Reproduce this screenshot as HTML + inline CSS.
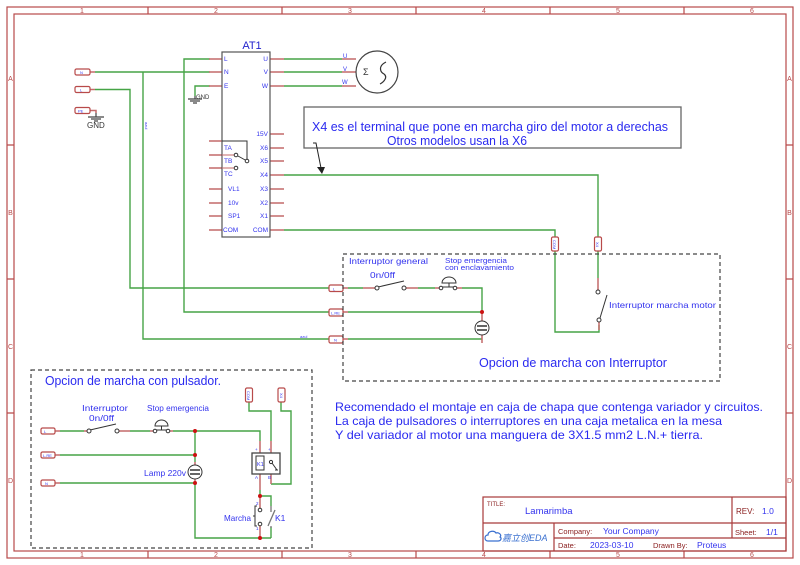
<!DOCTYPE html>
<html><head><meta charset="utf-8"><style>
html,body{margin:0;padding:0;background:#fff;}
svg{display:block;}
text{font-family:"Liberation Sans","DejaVu Sans","Noto Sans CJK SC",sans-serif;}
</style></head><body>
<svg width="800" height="565" viewBox="0 0 800 565" xmlns="http://www.w3.org/2000/svg">
<rect width="800" height="565" fill="#fff"/>
<!-- frame -->
<g stroke="#b84a4a" fill="none" stroke-width="1.2">
<rect x="7" y="7" width="786" height="551"/>
<rect x="14" y="14" width="772" height="537"/>
<path d="M148 7V14M282 7V14M416 7V14M550 7V14M684 7V14M148 551V558M282 551V558M416 551V558M550 551V558M684 551V558M7 145H14M7 279H14M7 413H14M786 145H793M786 279H793M786 413H793"/>
</g>
<g fill="#b84a4a" font-size="7" text-anchor="middle">
<text x="82" y="13">1</text><text x="216" y="13">2</text><text x="350" y="13">3</text><text x="484" y="13">4</text><text x="618" y="13">5</text><text x="752" y="13">6</text>
<text x="82" y="557">1</text><text x="216" y="557">2</text><text x="350" y="557">3</text><text x="484" y="557">4</text><text x="618" y="557">5</text><text x="752" y="557">6</text>
<text x="10.5" y="81">A</text><text x="10.5" y="215">B</text><text x="10.5" y="349">C</text><text x="10.5" y="483">D</text>
<text x="789.5" y="81">A</text><text x="789.5" y="215">B</text><text x="789.5" y="349">C</text><text x="789.5" y="483">D</text>
</g>

<!-- green wires -->
<g stroke="#46a446" fill="none" stroke-width="1.4">
<path d="M95 72H210"/>
<path d="M95 89.5H130V288H329"/>
<path d="M143 72V339H329"/>
<path d="M210 59H184V312H329"/>
<path d="M210 86H195V96"/>
<path d="M284 59H342M284 72H342M284 86H342"/>
<path d="M284 175H598V237"/>
<path d="M598 251V278"/>
<path d="M284 230H555V237"/>
<path d="M555 251V332H599V325"/>
<!-- right dashed box internals -->
<path d="M348 288H363M418 288H435M462 288H482V312M348 312H482M348 339H482"/>
<!-- bottom left -->
<path d="M60 431H84M130 431H150M173 431H260V441M60 455H195M60 483H195V538H271M195 431V462"/>
<path d="M249 402V411H271V441M281 402V411H291V484H271M260 490V496H271V506M271 527V538"/>
</g>
<!-- red pin stubs -->
<g stroke="#c46a6a" fill="none" stroke-width="1.5">
<path d="M90 72H95M90 89.5H95M90 110.5H96V113"/>
<path d="M209 59H222M209 72H222M209 86H222M209 141H222M209 155H222M209 168H222M209 189H222M209 203H222M209 216H222M209 230H222"/>
<path d="M270 59H284M270 72H284M270 86H284M270 134H284M270 148H284M270 161H284M270 175H284M270 189H284M270 203H284M270 216H284M270 230H284"/>
<path d="M342 59H356M342 72H356M342 86H356"/>
<path d="M343 288H348M343 312H348M343 339H348M363 288H376M405 288H418M435 288H441M455 288H462"/>
<path d="M482 312V321M482 335V343"/>
<path d="M598 278V290M599 321V330"/>
<path d="M55 431H60M55 455H60M55 483H60M84 431H88M118 431H130M150 431H155M168 431H173M195 462V465M195 479V483"/>
<path d="M260 441V456M260 470V490M271 441V460M271 470V484M260 496V508M260 526V538"/>
</g>
<!-- junction dots -->
<g fill="#cc1111">
<circle cx="482" cy="312" r="2"/>
<circle cx="195" cy="431" r="2"/><circle cx="195" cy="455" r="2"/><circle cx="195" cy="483" r="2"/>
<circle cx="260" cy="496" r="2"/><circle cx="260" cy="538" r="2"/>
</g>

<!-- net labels -->
<g stroke="#b84a4a" fill="#fff" stroke-width="1.2">
<rect x="75" y="69" width="15" height="6" rx="1.5"/>
<rect x="75" y="86.5" width="15" height="6" rx="1.5"/>
<rect x="75" y="107.5" width="15" height="6" rx="1.5"/>
<rect x="329" y="285" width="14" height="6.5" rx="1.5"/>
<rect x="329" y="309" width="14" height="7" rx="1.5"/>
<rect x="329" y="336" width="14" height="7" rx="1.5"/>
<rect x="551.5" y="237" width="7" height="14" rx="1.5"/>
<rect x="594.5" y="237" width="7" height="14" rx="1.5"/>
<rect x="41" y="428" width="14" height="6" rx="1.5"/>
<rect x="41" y="452" width="14" height="6" rx="1.5"/>
<rect x="41" y="480" width="14" height="6" rx="1.5"/>
<rect x="245.5" y="388" width="7" height="14" rx="1.5"/>
<rect x="278" y="388" width="7" height="14" rx="1.5"/>
</g>
<g fill="#3a3af0" font-size="4">
<text x="80" y="74">N</text><text x="80" y="91.5">L</text><text x="78" y="112.5">PE</text>
<text x="333" y="290.5">L</text><text x="331" y="314.5">L.RE</text><text x="334" y="341.5">N</text>
<text x="44" y="433">L</text><text x="43" y="457">L.RE</text><text x="45" y="485">N</text>
<text x="145" y="122" transform="rotate(90 145 122)">azul</text>
<text x="300" y="338">azul</text>
<text x="553" y="240" transform="rotate(90 553 240)">COM</text>
<text x="596" y="242" transform="rotate(90 596 242)">X4</text>
<text x="247" y="391" transform="rotate(90 247 391)">COM</text>
<text x="280" y="393" transform="rotate(90 280 393)">X4</text>
</g>

<!-- GND symbols -->
<g stroke="#444" fill="none" stroke-width="1.2">
<path d="M96 113V117M88 117H104M91 119H101M94 121H98"/>
<path d="M195 96V99M188 99H202M190 101H200M193 103H197"/>
</g>
<text x="87" y="128" font-size="8" fill="#333" font-family="Liberation Serif,serif">GND</text>
<text x="196" y="99" font-size="6" fill="#333">GND</text>

<!-- AT1 block -->
<rect x="222" y="52" width="48" height="185" fill="#fff" stroke="#555" stroke-width="1.2"/>
<text x="252" y="49" font-size="11" fill="#2222cc" text-anchor="middle">AT1</text>
<g fill="#3333ee" font-size="6.5">
<text x="224" y="61">L</text><text x="224" y="74">N</text><text x="224" y="88">E</text>
<text x="224" y="150">TA</text><text x="224" y="163">TB</text><text x="224" y="176">TC</text>
<text x="228" y="191">VL1</text><text x="228" y="205">10v</text><text x="228" y="218">SP1</text><text x="223" y="232">COM</text>
</g>
<g fill="#3333ee" font-size="6.5" text-anchor="end">
<text x="268" y="61">U</text><text x="268" y="74">V</text><text x="268" y="88">W</text>
<text x="268" y="136">15V</text><text x="268" y="150">X6</text><text x="268" y="163">X5</text><text x="268" y="177">X4</text>
<text x="268" y="191">X3</text><text x="268" y="205">X2</text><text x="268" y="218">X1</text><text x="268" y="232">COM</text>
</g>
<!-- relay contact in AT1 -->
<g stroke="#333" fill="#fff" stroke-width="1">
<path d="M222 141H247V159" fill="none"/>
<path d="M222 155H236M222 168H236" fill="none" stroke="#c46a6a"/>
<path d="M238 156L247 161" fill="none"/>
<circle cx="236" cy="155" r="1.8"/><circle cx="236" cy="168" r="1.8"/><circle cx="247" cy="161" r="1.8"/>
</g>

<!-- motor -->
<circle cx="377" cy="72" r="21" fill="#fff" stroke="#444" stroke-width="1.2"/>
<g fill="#3333ee" font-size="6">
<text x="343" y="58">U</text><text x="343" y="71">V</text><text x="342" y="84">W</text>
</g>
<text x="363" y="75" font-size="9" fill="#333">Σ</text>
<path d="M386 62C378 66 380 72 384 74C388 77 384 82 380 84" stroke="#333" fill="none" stroke-width="1.2"/>

<!-- annotation box -->
<rect x="304" y="107" width="377" height="41" fill="#fff" stroke="#666" stroke-width="1.3"/>
<text x="312" y="131" font-size="12.5" fill="#2a2af0" textLength="356" lengthAdjust="spacingAndGlyphs">X4 es el terminal que pone en marcha giro del motor a derechas</text>
<text x="387" y="145" font-size="12.5" fill="#2a2af0" textLength="140" lengthAdjust="spacingAndGlyphs">Otros modelos usan la X6</text>
<path d="M313 143H316L321 168" stroke="#222" fill="none" stroke-width="1"/>
<path d="M317 167L325 167L322 174Z" fill="#222"/>

<!-- right dashed box -->
<rect x="343" y="254" width="377" height="127" fill="none" stroke="#444" stroke-width="1.2" stroke-dasharray="4,3"/>
<text x="349" y="264" font-size="8.5" fill="#3333ee" textLength="79" lengthAdjust="spacingAndGlyphs">Interruptor general</text>
<text x="370" y="278" font-size="8.5" fill="#3333ee" textLength="25" lengthAdjust="spacingAndGlyphs">0n/0ff</text>
<text x="445" y="263" font-size="7.5" fill="#3333ee" textLength="62" lengthAdjust="spacingAndGlyphs">Stop emergencia</text>
<text x="445" y="270" font-size="7.5" fill="#3333ee" textLength="69" lengthAdjust="spacingAndGlyphs">con enclavamiento</text>
<g stroke="#333" fill="#fff" stroke-width="1">
<path d="M378 287L404 281" fill="none"/>
<circle cx="377" cy="288" r="2"/><circle cx="404" cy="288" r="2"/>
<path d="M442 283H456A7 6 0 0 0 442 283Z" fill="#fff"/>
<path d="M449 283V287M441 287H455" fill="none"/>
<circle cx="441" cy="288" r="1.8"/><circle cx="455" cy="288" r="1.8"/>
<circle cx="482" cy="328" r="7"/>
<path d="M477 326H487M477 330H487" stroke-width="1.5" fill="none"/>
<circle cx="598" cy="292" r="2"/><circle cx="599" cy="320" r="2"/>
<path d="M600 318L607 295" fill="none"/>
</g>
<text x="609" y="308" font-size="8.5" fill="#3333ee" textLength="107" lengthAdjust="spacingAndGlyphs">Interruptor marcha motor</text>
<text x="479" y="367" font-size="12.5" fill="#2a2af0" textLength="188" lengthAdjust="spacingAndGlyphs">Opcion de marcha con Interruptor</text>

<!-- recommendation text -->
<g font-size="12" fill="#2a2af0">
<text x="335" y="411" textLength="428" lengthAdjust="spacingAndGlyphs">Recomendado el montaje en caja de chapa que contenga variador y circuitos.</text>
<text x="335" y="425" textLength="387" lengthAdjust="spacingAndGlyphs">La caja de pulsadores o interruptores en una caja metalica en la mesa</text>
<text x="335" y="439" textLength="368" lengthAdjust="spacingAndGlyphs">Y del variador al motor una manguera de 3X1.5 mm2 L.N.+ tierra.</text>
</g>

<!-- bottom-left dashed box -->
<rect x="31" y="370" width="281" height="178" fill="none" stroke="#444" stroke-width="1.2" stroke-dasharray="4,3"/>
<text x="45" y="385" font-size="12.5" fill="#2a2af0" textLength="176" lengthAdjust="spacingAndGlyphs">Opcion de marcha con pulsador.</text>
<text x="82" y="411" font-size="8.5" fill="#3333ee" textLength="46" lengthAdjust="spacingAndGlyphs">Interruptor</text>
<text x="89" y="421" font-size="8.5" fill="#3333ee" textLength="25" lengthAdjust="spacingAndGlyphs">0n/0ff</text>
<text x="147" y="411" font-size="8" fill="#3333ee" textLength="62" lengthAdjust="spacingAndGlyphs">Stop emergencia</text>
<text x="144" y="476" font-size="8.5" fill="#3333ee" textLength="42" lengthAdjust="spacingAndGlyphs">Lamp 220v</text>
<text x="224" y="521" font-size="8.5" fill="#3333ee" textLength="27" lengthAdjust="spacingAndGlyphs">Marcha</text>
<text x="275" y="521" font-size="8.5" fill="#3333ee">K1</text>
<g stroke="#333" fill="#fff" stroke-width="1">
<path d="M90 430L116 424" fill="none"/>
<circle cx="89" cy="431" r="2"/><circle cx="117" cy="431" r="2"/>
<path d="M155 426H168A6.5 6 0 0 0 155 426Z"/>
<path d="M161.5 426V430M155 430H168" fill="none"/>
<circle cx="155" cy="431" r="1.8"/><circle cx="168" cy="431" r="1.8"/>
<circle cx="195" cy="472" r="7"/>
<path d="M190 470H200M190 474H200" stroke-width="1.5" fill="none"/>
<!-- relay K1 -->
<rect x="252" y="453" width="28" height="21" stroke="#444" stroke-width="1.3"/>
<rect x="256" y="456" width="8" height="14"/>
<circle cx="271" cy="462" r="1.6"/>
<path d="M272 463L277 470M275 470H278" fill="none"/>
<!-- marcha pushbutton -->
<circle cx="260" cy="510" r="1.8"/><circle cx="260" cy="524" r="1.8"/>
<path d="M257 506H255V526H257M255 516H253" fill="none"/>
<!-- K1 contact -->
<path d="M271 506V512M268 526L275 510M271 526V528" fill="none" stroke="#777" stroke-width="1.3"/>
</g>
<text x="257" y="466" font-size="5.5" fill="#3333ee">K1</text>
<g fill="#3333ee" font-size="4.5">
<text x="255" y="451">+</text><text x="268" y="451">+</text><text x="255" y="479">A</text><text x="268" y="479">B</text>
<text x="256" y="505">2</text><text x="256" y="530">1</text>
</g>

<!-- title block -->
<g stroke="#a83a3a" fill="none" stroke-width="1.2">
<rect x="483" y="497" width="303" height="54"/>
<path d="M483 523H786M554 538H786M554 523V551M732 497V538"/>
</g>
<text x="487" y="506" font-size="6" fill="#8b2020">TITLE:</text>
<text x="525" y="514" font-size="9.5" fill="#3333ee">Lamarimba</text>
<text x="736" y="514" font-size="8" fill="#8b2020">REV:</text>
<text x="762" y="514" font-size="8.5" fill="#3333ee">1.0</text>
<text x="558" y="534" font-size="7.5" fill="#8b2020">Company:</text>
<text x="603" y="534" font-size="8.5" fill="#3333ee">Your Company</text>
<text x="735" y="535" font-size="7.5" fill="#8b2020">Sheet:</text>
<text x="766" y="535" font-size="8.5" fill="#3333ee">1/1</text>
<text x="558" y="548" font-size="7.5" fill="#8b2020">Date:</text>
<text x="590" y="548" font-size="8.5" fill="#3333ee">2023-03-10</text>
<text x="653" y="548" font-size="7.5" fill="#8b2020">Drawn By:</text>
<text x="697" y="548" font-size="8.5" fill="#3333ee">Proteus</text>
<path d="M488 541C484 541 484 535 488 535C488 531 494 530 496 533C499 532 502 535 500 537C502 538 501 541 498 541Z" fill="none" stroke="#3a70d0" stroke-width="1.2"/>
<text x="502" y="541" font-size="9" fill="#3a70d0" font-style="italic" font-family="Liberation Sans, Noto Sans CJK SC, sans-serif">嘉立创EDA</text>
</svg>
</body></html>
